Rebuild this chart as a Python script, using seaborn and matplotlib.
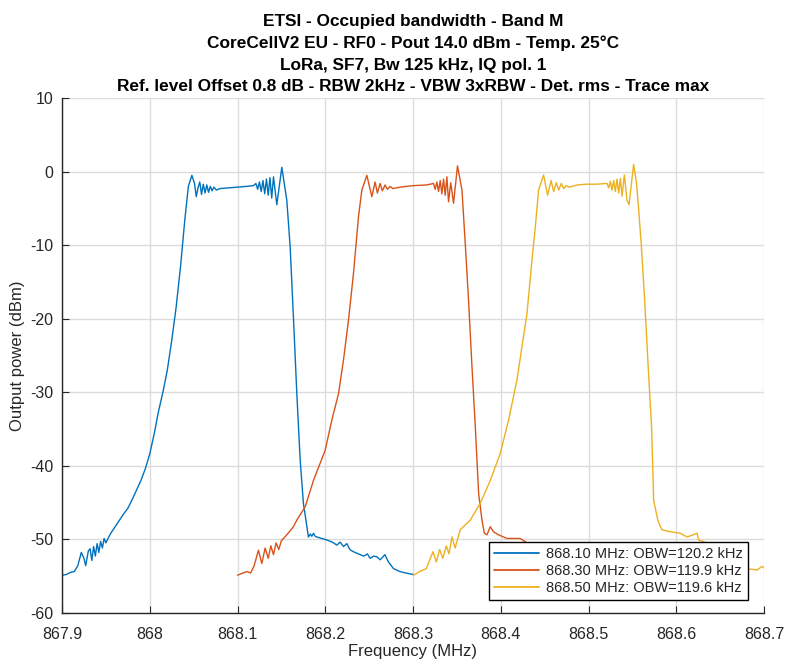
import numpy as np
import pandas as pd
import matplotlib
matplotlib.use("Agg")
import matplotlib.pyplot as plt
import seaborn as sns

# Spectrum traces (frequency in MHz, power in dBm)
freq_868_10 = [
    867.900, 867.905, 867.910, 867.914, 867.918, 867.922, 867.925, 867.927, 867.930, 867.932,
    867.934, 867.936, 867.938, 867.940, 867.942, 867.944, 867.946, 867.948, 867.950, 867.955,
    867.960, 867.965, 867.970, 867.975, 867.980, 867.985, 867.990, 867.995, 868.000, 868.005,
    868.010, 868.015, 868.020, 868.025, 868.030, 868.035, 868.040, 868.044, 868.048, 868.051,
    868.053, 868.055, 868.057, 868.059, 868.061, 868.063, 868.065, 868.067, 868.069, 868.071,
    868.073, 868.076, 868.080, 868.090, 868.100, 868.110, 868.118, 868.121, 868.123, 868.125,
    868.127, 868.129, 868.131, 868.133, 868.135, 868.137, 868.139, 868.141, 868.1448, 868.1505,
    868.1562, 868.160, 868.1637, 868.1676, 868.1714, 868.1751, 868.1808, 868.1830, 868.1847, 868.1866,
    868.1885, 868.1904, 868.1960, 868.2018, 868.2080, 868.2132, 868.2170, 868.2208, 868.2246, 868.2280,
    868.2320, 868.2360, 868.2398, 868.2440, 868.2480, 868.2512, 868.2550, 868.2589, 868.2626, 868.2680,
    868.2720, 868.2778, 868.2850, 868.2920, 868.3000,
]
power_868_10 = [
    -54.9, -54.8, -54.5, -54.4, -53.6, -51.8, -52.6, -53.6, -51.6, -51.3,
    -52.9, -51.0, -52.3, -50.6, -51.8, -50.3, -51.2, -49.9, -50.5, -49.3,
    -48.4, -47.5, -46.6, -45.8, -44.6, -43.3, -42.0, -40.4, -38.4, -35.7,
    -32.6, -30.0, -27.0, -23.0, -18.5, -13.0, -6.5, -2.0, -0.5, -1.6,
    -3.4, -2.2, -1.4, -3.1, -1.7, -2.9, -1.8, -2.8, -2.0, -2.6,
    -2.1, -2.5, -2.3, -2.2, -2.1, -2.0, -1.9, -1.6, -2.4, -1.4,
    -2.7, -1.2, -3.0, -1.0, -3.2, -0.8, -3.6, -0.7, -4.5, 0.6,
    -3.9, -10.2, -19.7, -30.2, -39.2, -45.1, -49.7, -49.3, -49.6, -49.2,
    -49.6, -49.7, -49.9, -50.1, -50.4, -50.8, -50.4, -51.0, -50.6, -51.4,
    -51.7, -51.9, -52.1, -52.3, -52.0, -52.6, -52.3, -52.4, -52.8, -52.1,
    -53.1, -54.0, -54.4, -54.6, -54.8,
]

freq_868_30 = [
    868.100, 868.1106, 868.115, 868.119, 868.1238, 868.1277, 868.1315, 868.135, 868.138, 868.141,
    868.144, 868.147, 868.150, 868.1562, 868.1637, 868.1676, 868.1771, 868.1866, 868.1999, 868.2075,
    868.2151, 868.2208, 868.2265, 868.2322, 868.2379, 868.2417, 868.2474, 868.2531, 868.2568, 868.2594,
    868.2625, 868.2651, 868.2682, 868.2708, 868.2740, 868.2770, 868.2854, 868.2999, 868.3159, 868.3234,
    868.3253, 868.3272, 868.3291, 868.3310, 868.3329, 868.3348, 868.3367, 868.3386, 868.3405, 868.3430,
    868.3462, 868.3507, 868.3558, 868.3595, 868.3633, 868.3672, 868.3710, 868.3748, 868.3786, 868.3813,
    868.3843, 868.3880, 868.3918, 868.3975, 868.4070, 868.4222, 868.4300, 868.4400, 868.4500, 868.4600,
    868.4700, 868.4800, 868.4900, 868.5000,
]
power_868_30 = [
    -54.9, -54.4, -54.6, -53.6, -51.5, -53.3, -51.2, -52.6, -50.9, -52.1,
    -50.5, -51.4, -50.2, -49.4, -48.3, -47.4, -45.6, -42.0, -37.9, -33.8,
    -30.2, -25.6, -20.2, -13.8, -6.1, -2.5, -0.5, -3.4, -1.4, -2.9,
    -1.6, -2.6, -1.8, -2.4, -2.0, -2.3, -2.1, -1.9, -1.8, -1.6,
    -2.4, -1.4, -2.7, -1.2, -3.0, -1.0, -3.2, -0.7, -4.1, -1.5,
    -4.3, 0.8, -2.5, -9.7, -17.5, -26.5, -34.7, -43.8, -47.4, -49.2,
    -49.4, -48.3, -49.0, -49.4, -49.9, -49.9, -50.5, -51.0, -51.5, -52.0,
    -52.5, -53.5, -54.2, -54.7,
]

freq_868_50 = [
    868.3006, 868.3076, 868.3152, 868.3228, 868.3266, 868.3304, 868.3340, 868.3380, 868.3410, 868.3444,
    868.3480, 868.3539, 868.3653, 868.3767, 868.3881, 868.3995, 868.4089, 868.4185, 868.4242, 868.4299,
    868.4356, 868.4394, 868.4431, 868.4488, 868.4534, 868.4573, 868.4603, 868.4633, 868.4660, 868.4690,
    868.4717, 868.4750, 868.4780, 868.4876, 868.4971, 868.5091, 868.5211, 868.5230, 868.5249, 868.5268,
    868.5287, 868.5306, 868.5325, 868.5344, 868.5363, 868.5382, 868.5409, 868.5439, 868.5462, 868.5514,
    868.5546, 868.5572, 868.5600, 868.5640, 868.5680, 868.5720, 868.5742, 868.5790, 868.5819, 868.5838,
    868.5895, 868.6047, 868.6123, 868.6237, 868.6256, 868.6350, 868.6450, 868.6550, 868.6650, 868.6750,
    868.6807, 868.6920, 868.6978, 868.7000,
]
power_868_50 = [
    -54.9, -54.4, -54.0, -51.7, -53.1, -51.4, -52.6, -50.9, -52.0, -49.7,
    -51.2, -48.7, -47.4, -45.1, -42.0, -38.3, -33.8, -28.3, -23.8, -19.3,
    -12.0, -7.5, -2.5, -0.45, -3.2, -1.2, -2.7, -1.5, -2.5, -1.6,
    -2.3, -1.9, -2.1, -1.8, -1.7, -1.7, -1.6, -2.2, -1.3, -2.5,
    -1.2, -2.7, -1.0, -2.9, -0.9, -3.3, -0.45, -3.9, -4.5, 1.0,
    -1.4, -5.2, -9.7, -17.5, -26.5, -35.0, -44.7, -47.4, -48.3, -48.7,
    -48.9, -49.2, -49.7, -49.2, -50.1, -50.5, -51.0, -51.8, -52.5, -53.3,
    -54.0, -54.2, -53.7, -53.9,
]

trace_labels = [
    "868.10 MHz: OBW=120.2 kHz",
    "868.30 MHz: OBW=119.9 kHz",
    "868.50 MHz: OBW=119.6 kHz",
]
trace_colors = ["#0072BD", "#D95319", "#EDB120"]

x_ticks = [867.9, 868.0, 868.1, 868.2, 868.3, 868.4, 868.5, 868.6, 868.7]
x_tick_labels = ["867.9", "868", "868.1", "868.2", "868.3", "868.4", "868.5", "868.6", "868.7"]
y_ticks = [-60, -50, -40, -30, -20, -10, 0, 10]

title_lines = [
    "ETSI - Occupied bandwidth - Band M",
    "CoreCellV2 EU - RF0 - Pout 14.0 dBm - Temp. 25°C",
    "LoRa, SF7, Bw 125 kHz, IQ pol. 1",
    "Ref. level Offset 0.8 dB - RBW 2kHz - VBW 3xRBW - Det. rms - Trace max",
]

frames = []
for f, p, lab in zip([freq_868_10, freq_868_30, freq_868_50],
                     [power_868_10, power_868_30, power_868_50],
                     trace_labels):
    frames.append(pd.DataFrame({"freq": f, "power": p, "trace": lab}))
df = pd.concat(frames, ignore_index=True)

sns.set_theme(style="whitegrid")
plt.rcParams["font.family"] = ["Liberation Sans", "DejaVu Sans"]
plt.rcParams["axes.unicode_minus"] = False

fig = plt.figure(figsize=(7.85, 6.61), dpi=100)
ax = fig.add_axes([62 / 785, 1 - 612.7 / 661, (764 - 62) / 785, (612.7 - 98.2) / 661])

sns.lineplot(data=df, x="freq", y="power", hue="trace", hue_order=trace_labels,
             palette=trace_colors, estimator=None, sort=False, linewidth=1.0, ax=ax)

ax.set_xlim(867.9, 868.7)
ax.set_ylim(-60, 10)
ax.set_xticks(x_ticks)
ax.set_xticklabels(x_tick_labels)
ax.set_yticks(y_ticks)
ax.grid(True, color="#dcdcdc", linewidth=1.0)
ax.set_facecolor("white")

for side in ["top", "right"]:
    ax.spines[side].set_visible(False)
for side in ["left", "bottom"]:
    ax.spines[side].set_color("#262626")
    ax.spines[side].set_linewidth(1.0)

ax.tick_params(axis="both", direction="in", length=5, width=0.8, color="#262626",
               labelsize=11.5, labelcolor="#262626", bottom=True, left=True)
ax.tick_params(axis="x", pad=10)
ax.tick_params(axis="y", pad=6)

ax.set_xlabel("Frequency (MHz)", fontsize=12, color="#262626", labelpad=2)
ax.set_ylabel("Output power (dBm)", fontsize=12, color="#262626", labelpad=4)

ax.set_title("\n".join(title_lines), fontsize=12.4, fontweight="bold",
             color="black", linespacing=1.55, pad=5)

leg = ax.legend(loc="lower right", bbox_to_anchor=(0.9775, 0.025), frameon=True,
                fancybox=False, framealpha=1, edgecolor="black", fontsize=10.5,
                handlelength=3.1, borderpad=0.35, labelspacing=0.2, handletextpad=0.5,
                borderaxespad=0)
leg.get_frame().set_linewidth(1.0)
for h in leg.get_lines():
    h.set_linewidth(1.3)

fig.savefig("out.png", dpi=100, facecolor="white")
